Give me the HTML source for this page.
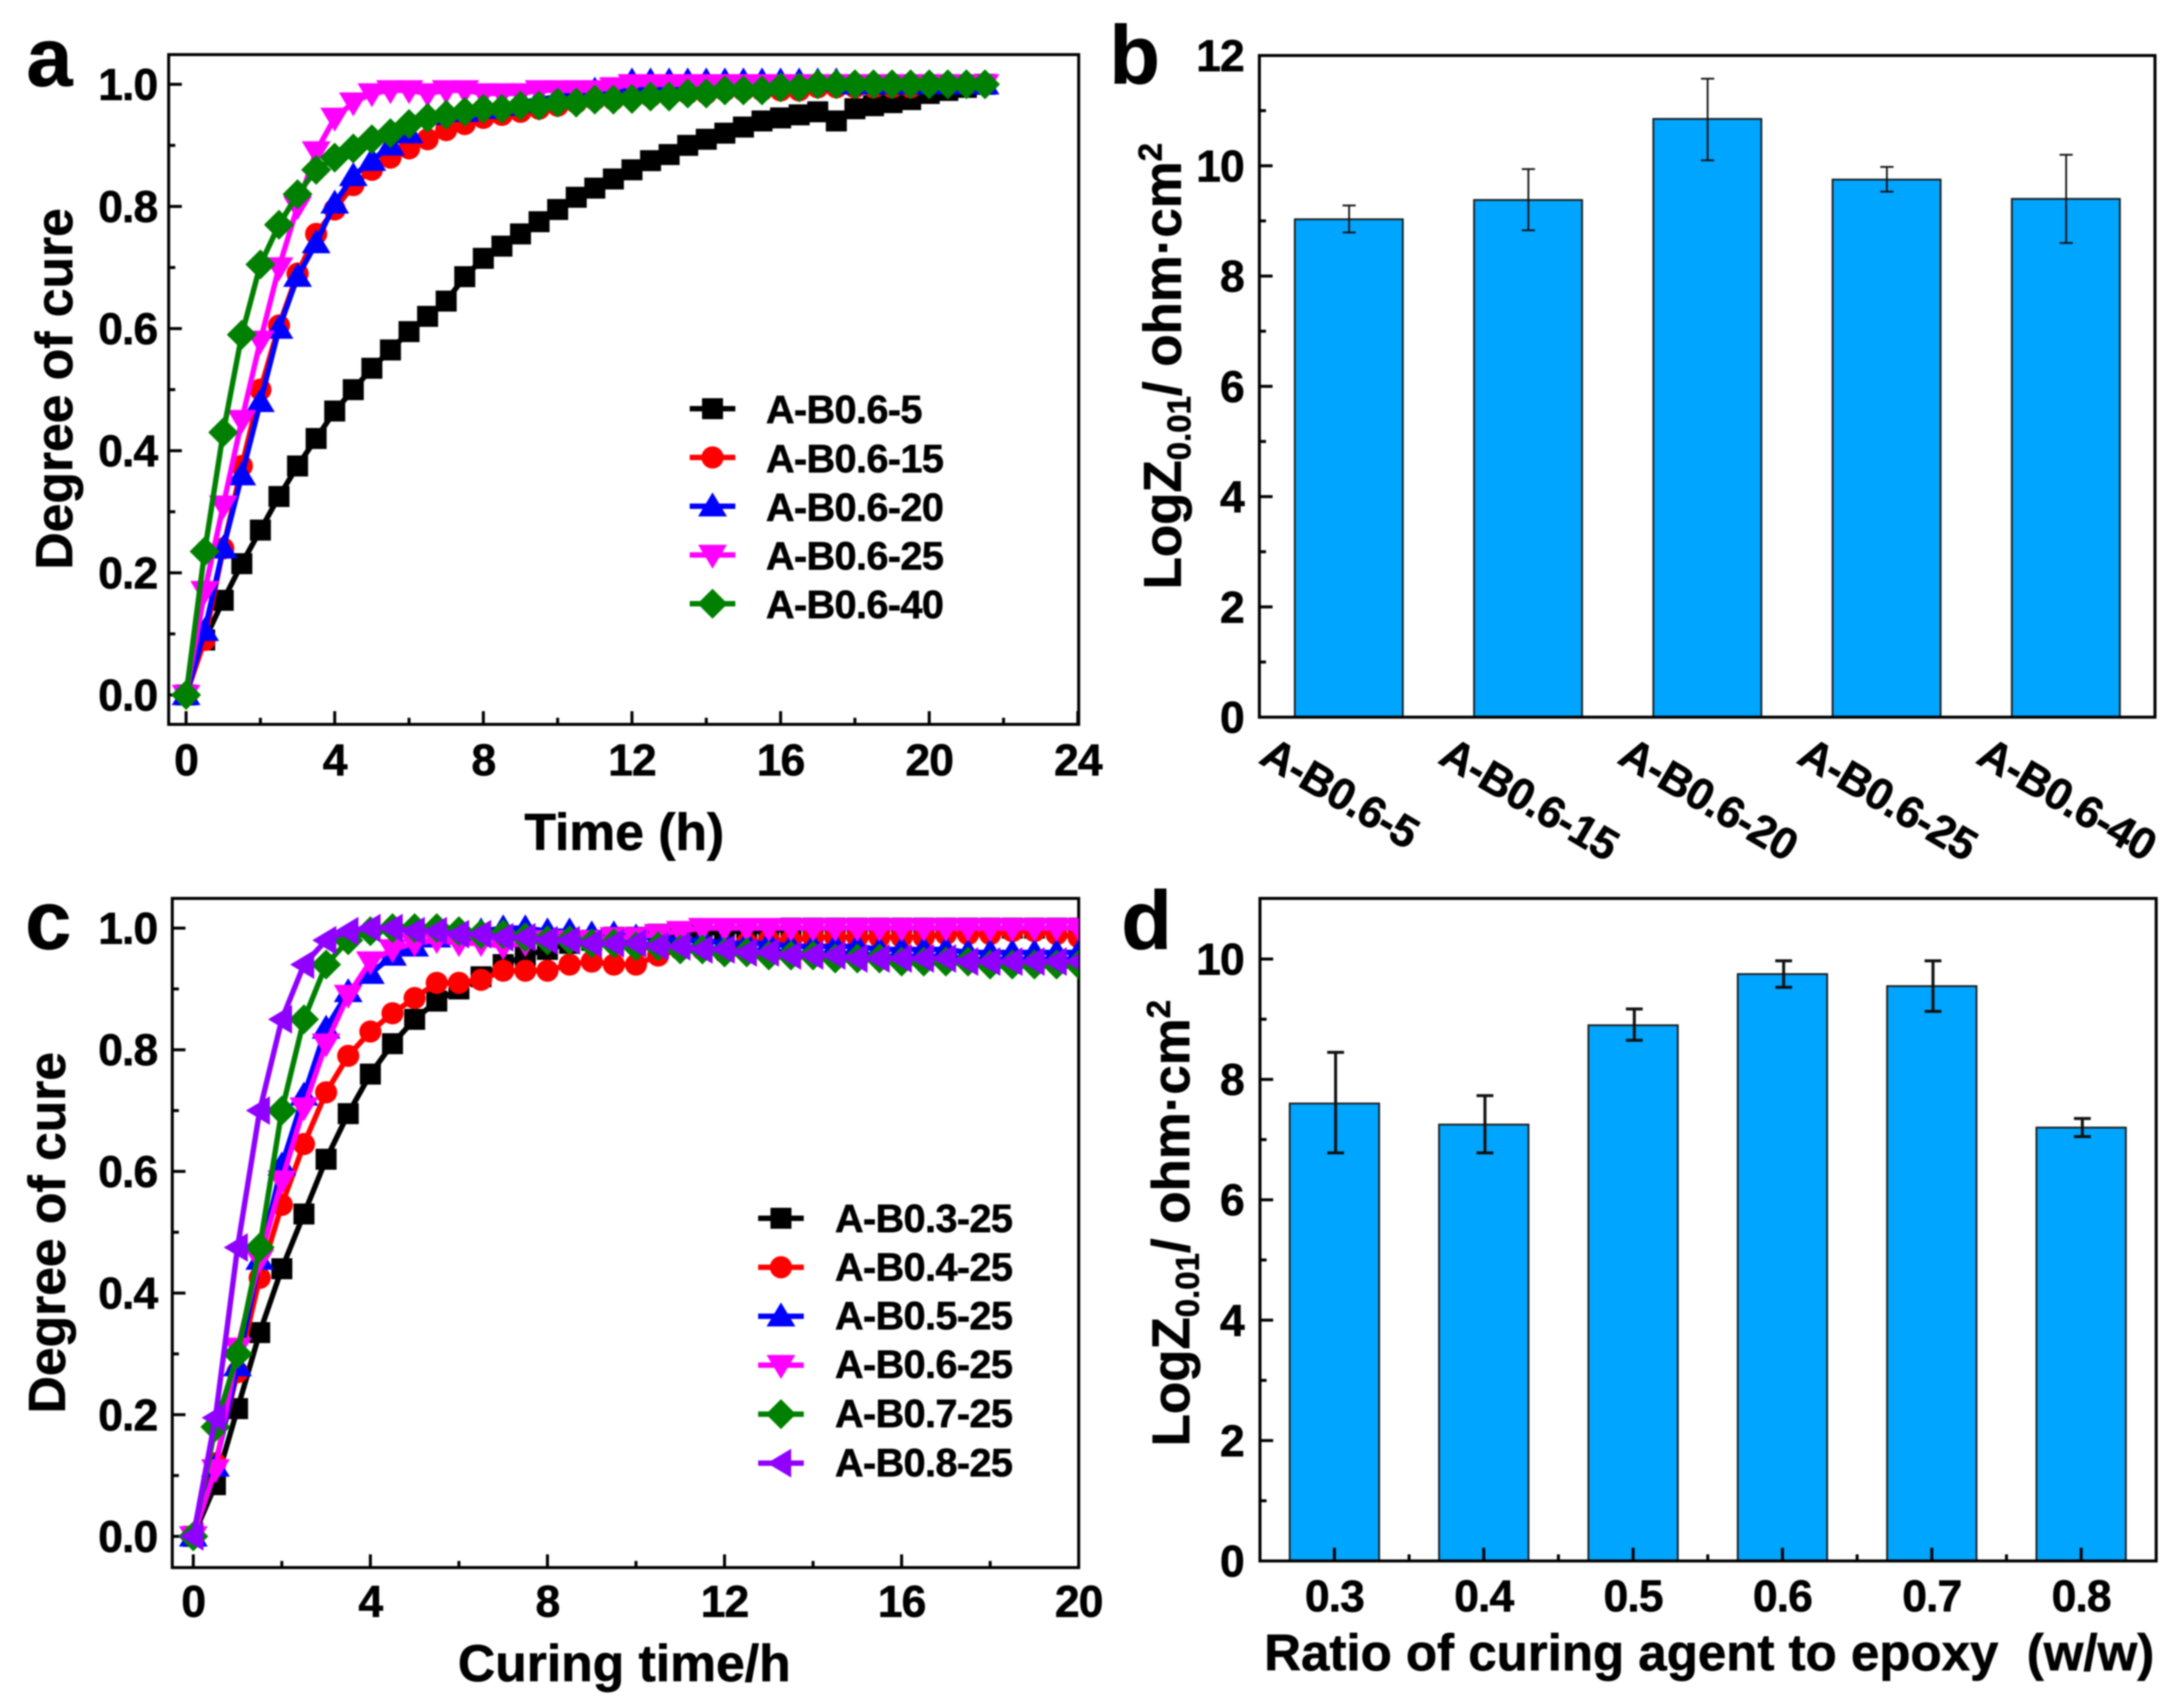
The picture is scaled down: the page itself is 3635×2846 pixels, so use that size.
<!DOCTYPE html>
<html lang="en">
<head>
<meta charset="utf-8">
<title>Degree of cure and LogZ charts</title>
<style>
html,body{margin:0;padding:0;background:#fff;}
svg{display:block;filter:blur(1.3px);}
text{font-family:"Liberation Sans",Arial,sans-serif;font-weight:bold;fill:#000;stroke:#000;stroke-width:1px;}
.tick{font-size:74px;letter-spacing:-1.5px;}
.title{font-size:86px;}
.legend{font-size:66px;letter-spacing:-1px;}
.letter{font-size:138px;}
</style>
</head>
<body>
<svg id="fig" xmlns="http://www.w3.org/2000/svg" width="3635" height="2846" viewBox="0 0 3635 2846">
  <defs>
    <clipPath id="clip-c"><rect x="287" y="1497" width="1510" height="1115"/></clipPath>
  </defs>
  <g id="panel-a"></g>
  <g id="panel-b"></g>
  <g id="panel-c"></g>
  <g id="panel-d"></g>

  <text class="letter" x="44" y="143">a</text>
  <text class="letter" x="1848" y="139">b</text>
  <text class="letter" x="42" y="1581">c</text>
  <text class="letter" x="1868" y="1581">d</text>

  <text class="title" text-anchor="middle" transform="translate(120,648) rotate(-90)">Degree of cure</text>
  <text class="title" text-anchor="middle" x="1040" y="1416">Time (h)</text>
  <text class="title" text-anchor="middle" transform="translate(108,2054) rotate(-90)">Degree of cure</text>
  <text class="title" text-anchor="middle" x="1040" y="2801">Curing time/h</text>

  <text class="title" transform="translate(1967,982) rotate(-90)" style="font-size:88px">LogZ<tspan dy="16" style="font-size:55px">0.01</tspan><tspan dy="-16">/ ohm·cm</tspan><tspan dy="-32" style="font-size:55px">2</tspan></text>
  <text class="title" transform="translate(1981,2410) rotate(-90)" style="font-size:88px">LogZ<tspan dy="16" style="font-size:55px">0.01</tspan><tspan dy="-16">/ ohm·cm</tspan><tspan dy="-32" style="font-size:55px">2</tspan></text>
  <text class="title" x="2106" y="2783" xml:space="preserve" style="font-size:85px">Ratio of curing agent to epoxy  (w/w)</text>

  <g>
    <text class="legend" x="1276" y="705">A-B0.6-5</text>
    <text class="legend" x="1276" y="787">A-B0.6-15</text>
    <text class="legend" x="1276" y="868">A-B0.6-20</text>
    <text class="legend" x="1276" y="949">A-B0.6-25</text>
    <text class="legend" x="1276" y="1030">A-B0.6-40</text>
  </g>
  <g>
    <text class="legend" x="1391" y="2053">A-B0.3-25</text>
    <text class="legend" x="1391" y="2134">A-B0.4-25</text>
    <text class="legend" x="1391" y="2215">A-B0.5-25</text>
    <text class="legend" x="1391" y="2296">A-B0.6-25</text>
    <text class="legend" x="1391" y="2378">A-B0.7-25</text>
    <text class="legend" x="1391" y="2460">A-B0.8-25</text>
  </g>
</svg>
<script>
/* ---------- panel a data ---------- */
const timeA = [0,0.5,1,1.5,2,2.5,3,3.5,4,4.5,5,5.5,6,6.5,7,7.5,8,8.5,9,9.5,10,10.5,11,11.5,12,12.5,13,13.5,14,14.5,15,15.5,16,16.5,17,17.5,18,18.5,19,19.5,20,20.5,21,21.5];
const curveA5  = [0,.09,.155,.215,.27,.325,.375,.42,.465,.5,.535,.565,.595,.62,.645,.685,.715,.735,.755,.775,.795,.815,.83,.845,.86,.875,.885,.9,.91,.92,.93,.94,.945,.95,.955,.94,.96,.965,.97,.975,.985,.99,.995,1];
const curveA15 = [0,.09,.24,.375,.5,.605,.69,.755,.795,.835,.86,.88,.895,.91,.925,.935,.945,.95,.955,.96,.965,.97,.975,.975,.98,.98,.985,.985,.985,.99,.99,.99,.99,.99,.995,.995,.995,.995,.995,.995,1,1,1,1];
const curveA20 = [0,.105,.24,.36,.48,.6,.685,.74,.805,.85,.875,.9,.92,.95,.955,.955,.96,.965,.97,.975,.98,.985,.99,.99,1.005,1.005,1.005,1.005,1.005,1.005,1.005,1.005,1.005,1.005,1.005,1.005,1,1,1,1,1,1,1,1];
const curveA25 = [0,.17,.31,.45,.58,.7,.8,.89,.945,.97,.985,.99,.99,.985,.99,.99,.985,.985,.985,.99,.99,.99,.99,.995,1,1,1,1,1,1,1,1,1,1,1,1,1,1,1,1,1,1,1,1];
const curveA40 = [0,.235,.43,.59,.705,.77,.82,.86,.88,.895,.91,.92,.935,.945,.95,.955,.96,.96,.965,.965,.97,.97,.975,.975,.976,.98,.98,.985,.985,.99,.99,.99,.995,.995,1,1,1,1,1,1,1,1,1,1];

/* ---------- panel c data ---------- */
const timeC = [0,0.5,1,1.5,2,2.5,3,3.5,4,4.5,5,5.5,6,6.5,7,7.5,8,8.5,9,9.5,10,10.5,11,11.5,12,12.5,13,13.5,14,14.5,15,15.5,16,16.5,17,17.5,18,18.5,19,19.5,20];
const curveC3 = [0,.085,.21,.335,.44,.53,.62,.695,.76,.81,.85,.88,.9,.92,.94,.955,.965,.975,.98,.985,.985,.99,.99,.99,.995,.995,.995,1,1,1,1,1,1,1,1,1,1,1,1,1,1];
const curveC4 = [0,.12,.27,.425,.545,.645,.73,.79,.83,.86,.885,.91,.91,.915,.93,.93,.93,.94,.945,.94,.94,.955,.965,.965,.96,.975,.98,.98,.985,.985,.985,.985,.985,.985,.99,.99,.99,.995,.995,.99,.985];
const curveC5 = [0,.115,.28,.455,.61,.725,.835,.895,.925,.955,.97,.985,.99,.995,1,1,.995,.995,.99,.99,.985,.985,.98,.98,.975,.975,.975,.97,.97,.97,.97,.965,.965,.965,.965,.96,.96,.96,.96,.96,.96];
const curveC6 = [0,.11,.31,.455,.585,.705,.81,.89,.945,.965,.975,.98,.975,.975,.97,.975,.98,.98,.98,.985,.985,.99,.995,1,1,1,1,1,1,1,1,1,1,1,1,1,1,1,1,1,1];
const curveC7 = [0,.18,.3,.475,.7,.85,.94,.98,.995,1,1,1,.995,.99,.99,.985,.98,.98,.975,.975,.97,.97,.965,.965,.96,.96,.955,.955,.955,.95,.95,.95,.945,.945,.945,.945,.94,.94,.94,.94,.94];
const curveC8 = [0,.195,.475,.7,.85,.94,.98,.995,1,1,.995,.995,.99,.99,.985,.985,.98,.98,.975,.975,.975,.97,.97,.965,.965,.96,.96,.955,.955,.955,.95,.95,.95,.95,.95,.945,.945,.945,.945,.945,.945];

/* ---------- panel b data ---------- */
const samplesB = ['A-B0.6-5','A-B0.6-15','A-B0.6-20','A-B0.6-25','A-B0.6-40'];
const valuesB = [9.03,9.38,10.85,9.75,9.4];
const errorHighB = [9.28,9.94,11.58,9.98,10.2];
const errorLowB = [8.79,8.83,10.1,9.53,8.6];

/* ---------- panel d data ---------- */
const ratiosD = [0.3,0.4,0.5,0.6,0.7,0.8];
const ratioLabelsD = ['0.3','0.4','0.5','0.6','0.7','0.8'];
const ratioMinorD = [0.35,0.45,0.55,0.65,0.75];
const valuesD = [7.6,7.25,8.9,9.75,9.55,7.2];
const errorHighD = [8.45,7.73,9.17,9.97,9.97,7.35];
const errorLowD = [6.78,6.78,8.65,9.53,9.13,7.05];

/* ---------- ticks ---------- */
const cureTicks = [0,0.2,0.4,0.6,0.8,1];
const cureTickLabels = ['0.0','0.2','0.4','0.6','0.8','1.0'];
const cureMinor = [0.1,0.3,0.5,0.7,0.9];
const xTicksA = [0,4,8,12,16,20,24];
const xTickLabelsA = ['0','4','8','12','16','20','24'];
const xMinorA = [2,6,10,14,18,22];
const xTicksC = [0,4,8,12,16,20];
const xTickLabelsC = ['0','4','8','12','16','20'];
const xMinorC = [2,6,10,14,18];
const yTicksB = [0,2,4,6,8,10,12];
const yTickLabelsB = ['0','2','4','6','8','10','12'];
const yMinorB = [1,3,5,7,9,11];
const yTicksD = [0,2,4,6,8,10];
const yTickLabelsD = ['0','2','4','6','8','10'];
const yMinorD = [1,3,5,7,9];

/* ---------- series names and styling ---------- */
const seriesNamesA = ['a-b0-6-5','a-b0-6-15','a-b0-6-20','a-b0-6-25','a-b0-6-40'];
const seriesCurvesA = [curveA5,curveA15,curveA20,curveA25,curveA40];
const seriesColorsA = ['#000000','#ff0000','#0000ff','#ff00ff','#008000'];
const seriesShapesA = ['square','circle','up','down','diamond'];
const seriesNamesC = ['a-b0-3-25','a-b0-4-25','a-b0-5-25','a-b0-6-25','a-b0-7-25','a-b0-8-25'];
const seriesCurvesC = [curveC3,curveC4,curveC5,curveC6,curveC7,curveC8];
const seriesColorsC = ['#000000','#ff0000','#0000ff','#ff00ff','#008000','#8f00ff'];
const seriesShapesC = ['square','circle','up','down','diamond','left'];

const SVGNS = 'http://www.w3.org/2000/svg';

function make(parent, tag) {
  const node = document.createElementNS(SVGNS, tag);
  parent.appendChild(node);
  return node;
}
function linear(d0, d1, r0, r1) {
  return v => r0 + (v - d0) * (r1 - r0) / (d1 - d0);
}
function drawLine(parent, name, x1, y1, x2, y2, color, width) {
  const line = make(parent, 'line');
  
  
  line.setAttribute('x1', x1);
  line.setAttribute('y1', y1);
  line.setAttribute('x2', x2);
  line.setAttribute('y2', y2);
  line.setAttribute('stroke', color);
  line.setAttribute('stroke-width', width);
  return line;
}
function drawLabel(parent, name, x, y, anchor, content) {
  const label = make(parent, 'text');
  
  
  label.setAttribute('class', 'tick');
  label.setAttribute('x', x);
  label.setAttribute('y', y);
  label.setAttribute('text-anchor', anchor);
  label.textContent = content;
  return label;
}
function drawFrame(parent, name, box) {
  const frame = make(parent, 'rect');
  
  
  frame.setAttribute('x', box.left);
  frame.setAttribute('y', box.top);
  frame.setAttribute('width', box.right - box.left);
  frame.setAttribute('height', box.bottom - box.top);
  frame.setAttribute('fill', 'none');
  frame.setAttribute('stroke', '#000');
  frame.setAttribute('stroke-width', 5);
}
function drawYAxis(parent, prefix, box, y, ticks, labels, minor, labelRight) {
  ticks.forEach((t, i) => {
    drawLine(parent, prefix + '-y-tick', box.left, y(t), box.left + 22, y(t), '#000', 5);
    drawLabel(parent, prefix + '-y-tick-label', labelRight, y(t) + 26, 'end', labels[i]);
  });
  minor.forEach(t => {
    drawLine(parent, prefix + '-y-minor-tick', box.left, y(t), box.left + 11, y(t), '#000', 5);
  });
}
function drawXAxis(parent, prefix, box, x, ticks, labels, minor, baseline) {
  ticks.forEach((t, i) => {
    drawLine(parent, prefix + '-x-tick', x(t), box.bottom, x(t), box.bottom - 22, '#000', 5);
    drawLabel(parent, prefix + '-x-tick-label', x(t), baseline, 'middle', labels[i]);
  });
  minor.forEach(t => {
    drawLine(parent, prefix + '-x-minor-tick', x(t), box.bottom, x(t), box.bottom - 11, '#000', 5);
  });
}
function drawMarker(parent, name, shape, cx, cy, color) {
  let node;
  if (shape === 'circle') {
    node = make(parent, 'circle');
    node.setAttribute('cx', cx);
    node.setAttribute('cy', cy);
    node.setAttribute('r', 18.5);
  } else if (shape === 'square') {
    node = make(parent, 'rect');
    node.setAttribute('x', cx - 17.5);
    node.setAttribute('y', cy - 17.5);
    node.setAttribute('width', 35);
    node.setAttribute('height', 35);
  } else {
    const outlines = {
      up: [[0,-23],[24,17],[-24,17]],
      down: [[0,23],[24,-17],[-24,-17]],
      left: [[-23,0],[17,-24],[17,24]],
      diamond: [[0,-25],[25,0],[0,25],[-25,0]]
    };
    node = make(parent, 'polygon');
    node.setAttribute('points', outlines[shape].map(p => (cx + p[0]) + ',' + (cy + p[1])).join(' '));
  }
  
  
  node.setAttribute('fill', color);
}
function drawSeries(parent, name, times, curve, color, shape, x, y) {
  const group = make(parent, 'g');
  
  
  const path = make(group, 'polyline');
  
  
  path.setAttribute('points', curve.map((v, i) => x(times[i]) + ',' + y(v)).join(' '));
  path.setAttribute('fill', 'none');
  path.setAttribute('stroke', color);
  path.setAttribute('stroke-width', 9);
  path.setAttribute('stroke-linejoin', 'round');
  curve.forEach((v, i) => {
    drawMarker(group, 'point-' + name, shape, x(times[i]), y(v), color);
  });
}
function drawLegendKey(parent, name, cx, cy, shape, color) {
  drawLine(parent, 'legend-line-' + name, cx - 38, cy, cx + 38, cy, color, 9);
  drawMarker(parent, 'legend-marker-' + name, shape, cx, cy, color);
}
function drawBar(parent, name, cx, halfWidth, top, bottom) {
  const bar = make(parent, 'rect');
  
  
  bar.setAttribute('x', cx - halfWidth);
  bar.setAttribute('y', top);
  bar.setAttribute('width', halfWidth * 2);
  bar.setAttribute('height', bottom - top);
  bar.setAttribute('fill', '#00a5ff');
  bar.setAttribute('stroke', '#1a1a1a');
  bar.setAttribute('stroke-width', 3);
}
function drawError(parent, name, cx, yHigh, yLow, capHalf, width) {
  drawLine(parent, name + '-stem', cx, yHigh, cx, yLow, '#111', width);
  drawLine(parent, name + '-cap-top', cx - capHalf, yHigh, cx + capHalf, yHigh, '#111', width);
  drawLine(parent, name + '-cap-bottom', cx - capHalf, yLow, cx + capHalf, yLow, '#111', width);
}

/* ---------- panel a ---------- */
(function () {
  const parent = document.getElementById('panel-a');
  const box = {left: 281, right: 1797, top: 91, bottom: 1207};
  const x = linear(0, 20, 310, 1548);
  const y = linear(0, 1, 1158, 140.5);
  drawFrame(parent, 'panel-a-frame', box);
  drawYAxis(parent, 'panel-a', box, y, cureTicks, cureTickLabels, cureMinor, 262);
  drawXAxis(parent, 'panel-a', box, x, xTicksA, xTickLabelsA, xMinorA, 1292);
  seriesNamesA.forEach((name, i) => {
    drawSeries(parent, name, timeA, seriesCurvesA[i], seriesColorsA[i], seriesShapesA[i], x, y);
  });
  const rows = linear(0, 4, 681, 1006);
  seriesNamesA.forEach((name, i) => {
    drawLegendKey(parent, name, 1187, rows(i), seriesShapesA[i], seriesColorsA[i]);
  });
})();

/* ---------- panel b ---------- */
(function () {
  const parent = document.getElementById('panel-b');
  const box = {left: 2098, right: 3590, top: 92.5, bottom: 1195};
  const x = linear(0, 4, 2247, 3441.5);
  const y = linear(0, 12, 1195, 92.5);
  valuesB.forEach((v, i) => {
    drawBar(parent, 'bar-' + samplesB[i].toLowerCase().replace('.', '-'), x(i), 90, y(v), y(0));
  });
  valuesB.forEach((v, i) => {
    drawError(parent, 'error-bar-' + samplesB[i].toLowerCase().replace('.', '-'), x(i) + 0.5, y(errorHighB[i]), y(errorLowB[i]), 11, 3);
  });
  drawFrame(parent, 'panel-b-frame', box);
  drawYAxis(parent, 'panel-b', box, y, yTicksB, yTickLabelsB, yMinorB, 2072);
  samplesB.forEach((s, i) => {
    const label = drawLabel(parent, 'panel-b-x-tick-label', 0, 0, 'start', s);
    label.setAttribute('transform', 'translate(' + (x(i) - 152) + ',1270) rotate(30.5)');
  });
})();

/* ---------- panel c ---------- */
(function () {
  const parent = document.getElementById('panel-c');
  const box = {left: 287, right: 1797, top: 1497, bottom: 2612};
  const x = linear(0, 20, 322, 1797);
  const y = linear(0, 1, 2560, 1546.5);
  drawFrame(parent, 'panel-c-frame', box);
  drawYAxis(parent, 'panel-c', box, y, cureTicks, cureTickLabels, cureMinor, 262);
  drawXAxis(parent, 'panel-c', box, x, xTicksC, xTickLabelsC, xMinorC, 2694);
  const plot = make(parent, 'g');
  
  
  plot.setAttribute('clip-path', 'url(#clip-c)');
  seriesNamesC.forEach((name, i) => {
    drawSeries(plot, name, timeC, seriesCurvesC[i], seriesColorsC[i], seriesShapesC[i], x, y);
  });
  const rows = linear(0, 5, 2030, 2438);
  seriesNamesC.forEach((name, i) => {
    drawLegendKey(parent, name, 1301, rows(i), seriesShapesC[i], seriesColorsC[i]);
  });
})();

/* ---------- panel d ---------- */
(function () {
  const parent = document.getElementById('panel-d');
  const box = {left: 2099, right: 3592, top: 1497, bottom: 2601};
  const x = linear(0.3, 0.8, 2223, 3467);
  const y = linear(0, 10, 2601, 1598);
  valuesD.forEach((v, i) => {
    drawBar(parent, 'bar-ratio-' + ratioLabelsD[i].replace('.', '-'), x(ratiosD[i]), 74.5, y(v), y(0));
  });
  valuesD.forEach((v, i) => {
    drawError(parent, 'error-bar-ratio-' + ratioLabelsD[i].replace('.', '-'), x(ratiosD[i]) + 2, y(errorHighD[i]), y(errorLowD[i]), 14, 5);
  });
  drawFrame(parent, 'panel-d-frame', box);
  drawYAxis(parent, 'panel-d', box, y, yTicksD, yTickLabelsD, yMinorD, 2072);
  drawXAxis(parent, 'panel-d', box, x, ratiosD, ratioLabelsD, ratioMinorD, 2685);
})();
</script>
</body>
</html>
